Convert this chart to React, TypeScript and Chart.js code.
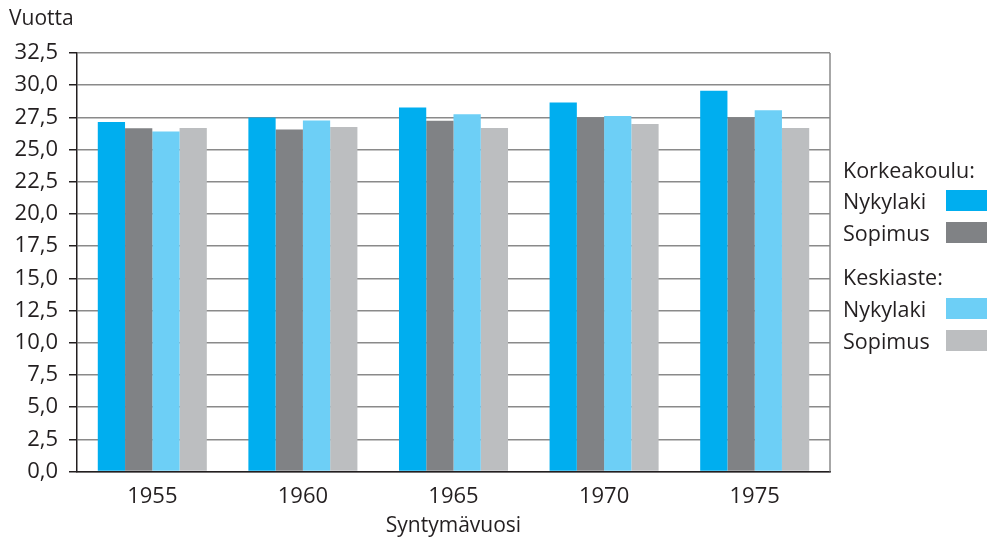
import React, { useEffect, useRef } from "react";
import { Chart, registerables } from "chart.js";

Chart.register(...registerables);

const categories = ["1955", "1960", "1965", "1970", "1975"];
const korkeaNyky = [27.15, 27.5, 28.27, 28.66, 29.56];
const korkeaSopimus = [26.65, 26.55, 27.24, 27.5, 27.5];
const keskiNyky = [26.4, 27.26, 27.75, 27.6, 28.06];
const keskiSopimus = [26.67, 26.75, 26.67, 26.98, 26.67];
const seriesLabels = ["Korkeakoulu: Nykylaki", "Korkeakoulu: Sopimus", "Keskiaste: Nykylaki", "Keskiaste: Sopimus"];
const colors = ["#00AEEF", "#808285", "#6DCFF6", "#BCBEC0"];
const yTitle = "Vuotta";
const xTitle = "Syntymävuosi";

const FONT = "'Open Sans', sans-serif";
const TEXT = "#231F20";

export default function App() {
  const ref = useRef<HTMLCanvasElement | null>(null);
  useEffect(() => {
    if (!ref.current) return;
    const rightBorder = {
      id: "rightBorder",
      afterDraw(chart: any) {
        const { ctx, chartArea } = chart;
        ctx.save();
        ctx.strokeStyle = "#8A8A8A";
        ctx.lineWidth = 1.5;
        ctx.beginPath();
        ctx.moveTo(chartArea.right, chartArea.top);
        ctx.lineTo(chartArea.right, chartArea.bottom);
        ctx.stroke();
        ctx.restore();
      },
    };
    const data = [korkeaNyky, korkeaSopimus, keskiNyky, keskiSopimus];
    const chart = new Chart(ref.current, {
      type: "bar",
      data: {
        labels: categories,
        datasets: data.map((d, i) => ({
          label: seriesLabels[i],
          data: d,
          backgroundColor: colors[i],
          borderWidth: 0,
          barPercentage: 1,
          categoryPercentage: 0.724,
        })),
      },
      options: {
        animation: false,
        responsive: false,
        maintainAspectRatio: false,
        layout: { padding: { left: 0, right: 157, top: 53, bottom: 0 } },
        plugins: { legend: { display: false }, tooltip: { enabled: false } },
        scales: {
          x: {
            grid: { display: false },
            border: { display: true, color: "#231F20", width: 1.5 },
            ticks: { color: TEXT, font: { family: FONT, size: 22 }, padding: 4 },
            title: { display: true, text: xTitle, color: TEXT, font: { family: FONT, size: 21 }, padding: { top: 0, bottom: 0 } },
            afterFit: (s: any) => { s.height = 67.5; },
          },
          y: {
            min: 0,
            max: 32.5,
            ticks: {
              stepSize: 2.5,
              color: TEXT,
              font: { family: FONT, size: 22 },
              padding: 11,
              callback: (v: any) => Number(v).toFixed(1).replace(".", ","),
            },
            grid: { color: "#8A8A8A", lineWidth: 1.5, tickLength: 8, tickColor: "#231F20", drawTicks: true },
            border: { display: true, color: "#231F20", width: 1.5 },
            afterFit: (s: any) => { s.width = 77; },
          },
        },
      },
      plugins: [rightBorder],
    });
    return () => chart.destroy();
  }, []);

  const legendText: React.CSSProperties = { position: "absolute", left: 843, fontFamily: FONT, fontSize: 21.5, color: TEXT, lineHeight: "24px", whiteSpace: "nowrap" };
  const sw = (top: number, c: string): React.CSSProperties => ({ position: "absolute", left: 946, top, width: 41, height: 21, background: c });

  return (
    <div style={{ position: "fixed", left: 0, top: 0, width: 987, height: 539, background: "#fff" }}>
      <canvas ref={ref} width={987} height={539} style={{ position: "absolute", left: 0, top: 0 }} />
      <div style={{ position: "absolute", left: 9, top: 5, fontFamily: FONT, fontSize: 21, color: TEXT, lineHeight: "24px" }}>{yTitle}</div>
      <div style={{ ...legendText, top: 158 }}>Korkeakoulu:</div>
      <div style={{ ...legendText, top: 189 }}>Nykylaki</div>
      <div style={sw(190, colors[0])} />
      <div style={{ ...legendText, top: 221 }}>Sopimus</div>
      <div style={sw(222, colors[1])} />
      <div style={{ ...legendText, top: 265 }}>Keskiaste:</div>
      <div style={{ ...legendText, top: 297 }}>Nykylaki</div>
      <div style={sw(298, colors[2])} />
      <div style={{ ...legendText, top: 329 }}>Sopimus</div>
      <div style={sw(330, colors[3])} />
    </div>
  );
}
